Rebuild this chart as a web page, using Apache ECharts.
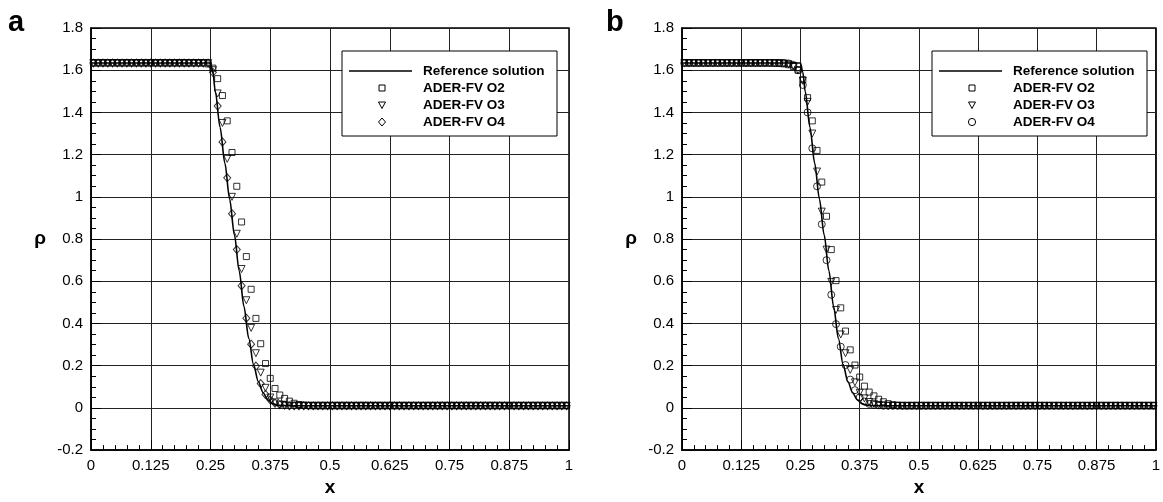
<!DOCTYPE html>
<html>
<head>
<meta charset="utf-8">
<script src="https://cdn.jsdelivr.net/npm/echarts@6/dist/echarts.min.js"></script>
<style>
  html, body { margin: 0; padding: 0; background: #fff; }
  #chart { width: 1163px; height: 502px; }
</style>
</head>
<body>
<div id="chart"></div>
<script>
// Cell centres of the 100-cell mesh
const cellX = [0.005,0.015,0.025,0.035,0.045,0.055,0.065,0.075,0.085,0.095,
  0.105,0.115,0.125,0.135,0.145,0.155,0.165,0.175,0.185,0.195,
  0.205,0.215,0.225,0.235,0.245,0.255,0.265,0.275,0.285,0.295,
  0.305,0.315,0.325,0.335,0.345,0.355,0.365,0.375,0.385,0.395,
  0.405,0.415,0.425,0.435,0.445,0.455,0.465,0.475,0.485,0.495,
  0.505,0.515,0.525,0.535,0.545,0.555,0.565,0.575,0.585,0.595,
  0.605,0.615,0.625,0.635,0.645,0.655,0.665,0.675,0.685,0.695,
  0.705,0.715,0.725,0.735,0.745,0.755,0.765,0.775,0.785,0.795,
  0.805,0.815,0.825,0.835,0.845,0.855,0.865,0.875,0.885,0.895,
  0.905,0.915,0.925,0.935,0.945,0.955,0.965,0.975,0.985,0.995];

// Reference solution
const refX = [0, 0.25, 0.255, 0.26, 0.27, 0.28, 0.29, 0.30, 0.31, 0.32, 0.33, 0.34, 0.35, 0.36, 0.37, 0.38, 0.39, 0.40, 0.42, 0.45, 1.0];
const refRho = [1.634, 1.634, 1.59, 1.50, 1.33, 1.16, 0.99, 0.82, 0.65, 0.48, 0.33, 0.205, 0.125, 0.072, 0.038, 0.02, 0.013, 0.011, 0.01, 0.01, 0.01];

// Panel a
const rhoA_O2 = [1.634,1.634,1.634,1.634,1.634,1.634,1.634,1.634,1.634,1.634,
  1.634,1.634,1.634,1.634,1.634,1.634,1.634,1.634,1.634,1.634,
  1.634,1.634,1.634,1.634,1.63,1.61,1.56,1.48,1.36,1.21,
  1.05,0.881,0.717,0.562,0.424,0.304,0.21,0.14,0.092,0.061,
  0.045,0.032,0.022,0.016,0.013,0.011,0.01,0.01,0.01,0.01,
  0.01,0.01,0.01,0.01,0.01,0.01,0.01,0.01,0.01,0.01,
  0.01,0.01,0.01,0.01,0.01,0.01,0.01,0.01,0.01,0.01,
  0.01,0.01,0.01,0.01,0.01,0.01,0.01,0.01,0.01,0.01,
  0.01,0.01,0.01,0.01,0.01,0.01,0.01,0.01,0.01,0.01,
  0.01,0.01,0.01,0.01,0.01,0.01,0.01,0.01,0.01,0.01];
const rhoA_O3 = [1.634,1.634,1.634,1.634,1.634,1.634,1.634,1.634,1.634,1.634,
  1.634,1.634,1.634,1.634,1.634,1.634,1.634,1.634,1.634,1.634,
  1.634,1.634,1.634,1.634,1.634,1.60,1.49,1.35,1.18,1.0,
  0.825,0.658,0.51,0.379,0.259,0.167,0.095,0.049,0.026,0.016,
  0.012,0.01,0.01,0.01,0.01,0.01,0.01,0.01,0.01,0.01,
  0.01,0.01,0.01,0.01,0.01,0.01,0.01,0.01,0.01,0.01,
  0.01,0.01,0.01,0.01,0.01,0.01,0.01,0.01,0.01,0.01,
  0.01,0.01,0.01,0.01,0.01,0.01,0.01,0.01,0.01,0.01,
  0.01,0.01,0.01,0.01,0.01,0.01,0.01,0.01,0.01,0.01,
  0.01,0.01,0.01,0.01,0.01,0.01,0.01,0.01,0.01,0.01];
const rhoA_O4 = [1.634,1.634,1.634,1.634,1.634,1.634,1.634,1.634,1.634,1.634,
  1.634,1.634,1.634,1.634,1.634,1.634,1.634,1.634,1.634,1.634,
  1.634,1.634,1.634,1.634,1.634,1.59,1.43,1.26,1.09,0.92,
  0.75,0.579,0.425,0.302,0.198,0.115,0.064,0.038,0.022,0.015,
  0.012,0.01,0.01,0.01,0.01,0.01,0.01,0.01,0.01,0.01,
  0.01,0.01,0.01,0.01,0.01,0.01,0.01,0.01,0.01,0.01,
  0.01,0.01,0.01,0.01,0.01,0.01,0.01,0.01,0.01,0.01,
  0.01,0.01,0.01,0.01,0.01,0.01,0.01,0.01,0.01,0.01,
  0.01,0.01,0.01,0.01,0.01,0.01,0.01,0.01,0.01,0.01,
  0.01,0.01,0.01,0.01,0.01,0.01,0.01,0.01,0.01,0.01];

// Panel b
const rhoB_O2 = [1.634,1.634,1.634,1.634,1.634,1.634,1.634,1.634,1.634,1.634,
  1.634,1.634,1.634,1.634,1.634,1.634,1.634,1.634,1.634,1.633,
  1.632,1.63,1.626,1.618,1.60,1.555,1.47,1.36,1.22,1.07,
  0.908,0.75,0.603,0.474,0.364,0.275,0.203,0.146,0.103,0.075,
  0.057,0.041,0.029,0.02,0.015,0.012,0.01,0.01,0.01,0.01,
  0.01,0.01,0.01,0.01,0.01,0.01,0.01,0.01,0.01,0.01,
  0.01,0.01,0.01,0.01,0.01,0.01,0.01,0.01,0.01,0.01,
  0.01,0.01,0.01,0.01,0.01,0.01,0.01,0.01,0.01,0.01,
  0.01,0.01,0.01,0.01,0.01,0.01,0.01,0.01,0.01,0.01,
  0.01,0.01,0.01,0.01,0.01,0.01,0.01,0.01,0.01,0.01];
const rhoB_O3 = [1.634,1.634,1.634,1.634,1.634,1.634,1.634,1.634,1.634,1.634,
  1.634,1.634,1.634,1.634,1.634,1.634,1.634,1.634,1.634,1.634,
  1.634,1.632,1.628,1.62,1.60,1.55,1.45,1.30,1.12,0.93,
  0.75,0.597,0.464,0.348,0.259,0.18,0.121,0.072,0.045,0.028,
  0.019,0.014,0.012,0.01,0.01,0.01,0.01,0.01,0.01,0.01,
  0.01,0.01,0.01,0.01,0.01,0.01,0.01,0.01,0.01,0.01,
  0.01,0.01,0.01,0.01,0.01,0.01,0.01,0.01,0.01,0.01,
  0.01,0.01,0.01,0.01,0.01,0.01,0.01,0.01,0.01,0.01,
  0.01,0.01,0.01,0.01,0.01,0.01,0.01,0.01,0.01,0.01,
  0.01,0.01,0.01,0.01,0.01,0.01,0.01,0.01,0.01,0.01];
const rhoB_O4 = [1.634,1.634,1.634,1.634,1.634,1.634,1.634,1.634,1.634,1.634,
  1.634,1.634,1.634,1.634,1.634,1.634,1.634,1.634,1.634,1.634,
  1.634,1.634,1.632,1.625,1.60,1.53,1.40,1.23,1.05,0.87,
  0.70,0.536,0.397,0.29,0.203,0.134,0.084,0.05,0.03,0.019,
  0.014,0.012,0.01,0.01,0.01,0.01,0.01,0.01,0.01,0.01,
  0.01,0.01,0.01,0.01,0.01,0.01,0.01,0.01,0.01,0.01,
  0.01,0.01,0.01,0.01,0.01,0.01,0.01,0.01,0.01,0.01,
  0.01,0.01,0.01,0.01,0.01,0.01,0.01,0.01,0.01,0.01,
  0.01,0.01,0.01,0.01,0.01,0.01,0.01,0.01,0.01,0.01,
  0.01,0.01,0.01,0.01,0.01,0.01,0.01,0.01,0.01,0.01];

const seriesNames = ['Reference solution', 'ADER-FV O2', 'ADER-FV O3', 'ADER-FV O4'];
const panelLabels = ['a', 'b'];

const FONT = '"Liberation Sans", Arial, Helvetica, sans-serif';
const pairs = (xs, ys) => xs.map((x, i) => [x, ys[i]]);

const chart = echarts.init(document.getElementById('chart'), null, { renderer: 'canvas' });

const gridBoxes = [
  { left: 91, top: 28, width: 478, height: 434 },
  { left: 682, top: 28, width: 478, height: 434 }
];

function xAxisFor(gi) {
  return {
    type: 'value', gridIndex: gi, min: 0, max: 1, interval: 0.125,
    name: 'x', nameLocation: 'middle', nameGap: 21,
    nameTextStyle: { fontFamily: FONT, fontWeight: 'bold', fontSize: 19, color: '#000' },
    axisLine: { show: true, onZero: false, lineStyle: { color: '#000', width: 1.5 } },
    axisTick: { show: true, inside: true, length: 10, lineStyle: { color: '#000', width: 1 } },
    minorTick: { show: true, splitNumber: 5, length: 5, lineStyle: { color: '#000', width: 1 } },
    splitLine: { show: true, lineStyle: { color: '#222', width: 1 } },
    axisLabel: { fontFamily: FONT, fontSize: 15, color: '#000', margin: 8 }
  };
}
function yAxisFor(gi) {
  return {
    type: 'value', gridIndex: gi, min: -0.2, max: 1.8, interval: 0.2,
    name: 'ρ', nameLocation: 'middle', nameGap: 45, nameRotate: 0, nameMoveOverlap: false,
    nameTextStyle: { fontFamily: FONT, fontWeight: 'bold', fontSize: 19, color: '#000' },
    axisLine: { show: true, onZero: false, lineStyle: { color: '#000', width: 1.5 } },
    axisTick: { show: true, inside: true, length: 10, lineStyle: { color: '#000', width: 1 } },
    minorTick: { show: true, splitNumber: 4, length: 5, lineStyle: { color: '#000', width: 1 } },
    splitLine: { show: true, lineStyle: { color: '#222', width: 1 } },
    axisLabel: { fontFamily: FONT, fontSize: 15, color: '#000', margin: 8 }
  };
}

function scatter(gi, name, ys, symbol, size, rotate) {
  return {
    type: 'scatter', name: name, xAxisIndex: gi, yAxisIndex: gi,
    data: pairs(cellX, ys),
    symbol: symbol, symbolSize: size, symbolRotate: rotate || 0,
    itemStyle: { color: 'rgba(255,255,255,0)', borderColor: '#000', borderWidth: 1 },
    emphasis: { disabled: true }, silent: true, z: 3
  };
}
function refLine(gi) {
  return {
    type: 'line', name: seriesNames[0], xAxisIndex: gi, yAxisIndex: gi,
    data: pairs(refX, refRho), showSymbol: false, smooth: 0.3, smoothMonotone: 'x',
    lineStyle: { color: '#000', width: 1.6 },
    emphasis: { disabled: true }, silent: true, z: 4
  };
}

// Boxed legend drawn in the upper right of each panel
function legendBox(left, top, o4Shape) {
  const els = [];
  els.push({ type: 'rect', shape: { x: left, y: top, width: 215, height: 85 },
    style: { fill: '#fff', stroke: '#000', lineWidth: 1 }, z: 10 });
  els.push({ type: 'line', shape: { x1: left + 7, y1: top + 20, x2: left + 70, y2: top + 20 },
    style: { stroke: '#000', lineWidth: 1.6 }, z: 11 });
  const rows = [20, 37, 54, 71];
  rows.forEach((dy, i) => {
    els.push({ type: 'text', x: left + 81, y: top + dy, z: 11,
      style: { text: seriesNames[i], font: 'bold 13.5px ' + FONT, fill: '#000', verticalAlign: 'middle', align: 'left' } });
  });
  const cx = left + 40;
  const mk = { fill: 'rgba(255,255,255,0)', stroke: '#000', lineWidth: 1 };
  els.push({ type: 'rect', shape: { x: cx - 3, y: top + 37 - 3, width: 6, height: 6 }, style: mk, z: 11 });
  els.push({ type: 'polygon', shape: { points: [[cx - 3.5, top + 54 - 3], [cx + 3.5, top + 54 - 3], [cx, top + 54 + 3.5]] }, style: mk, z: 11 });
  if (o4Shape === 'diamond') {
    els.push({ type: 'polygon', shape: { points: [[cx, top + 71 - 4], [cx + 3.5, top + 71], [cx, top + 71 + 4], [cx - 3.5, top + 71]] }, style: mk, z: 11 });
  } else {
    els.push({ type: 'circle', shape: { cx: cx, cy: top + 71, r: 3.6 }, style: mk, z: 11 });
  }
  return els;
}

const graphics = []
  .concat(legendBox(342, 51, 'diamond'))
  .concat(legendBox(932, 51, 'circle'))
  .concat([
    { type: 'text', x: 8, y: 8, style: { text: panelLabels[0], font: 'bold 29px ' + FONT, fill: '#000' } },
    { type: 'text', x: 606, y: 8, style: { text: panelLabels[1], font: 'bold 29px ' + FONT, fill: '#000' } }
  ]);

chart.setOption({
  animation: false,
  backgroundColor: '#fff',
  grid: gridBoxes.map(g => Object.assign({ show: true, borderColor: '#000', borderWidth: 1.5, backgroundColor: 'rgba(0,0,0,0)' }, g)),
  xAxis: [xAxisFor(0), xAxisFor(1)],
  yAxis: [yAxisFor(0), yAxisFor(1)],
  series: [
    refLine(0),
    scatter(0, seriesNames[1], rhoA_O2, 'rect', 6),
    scatter(0, seriesNames[2], rhoA_O3, 'triangle', 7, 180),
    scatter(0, seriesNames[3], rhoA_O4, 'diamond', [7, 8]),
    refLine(1),
    scatter(1, seriesNames[1], rhoB_O2, 'rect', 6),
    scatter(1, seriesNames[2], rhoB_O3, 'triangle', 7, 180),
    scatter(1, seriesNames[3], rhoB_O4, 'circle', 7)
  ],
  graphic: graphics
});
</script>
</body>
</html>
